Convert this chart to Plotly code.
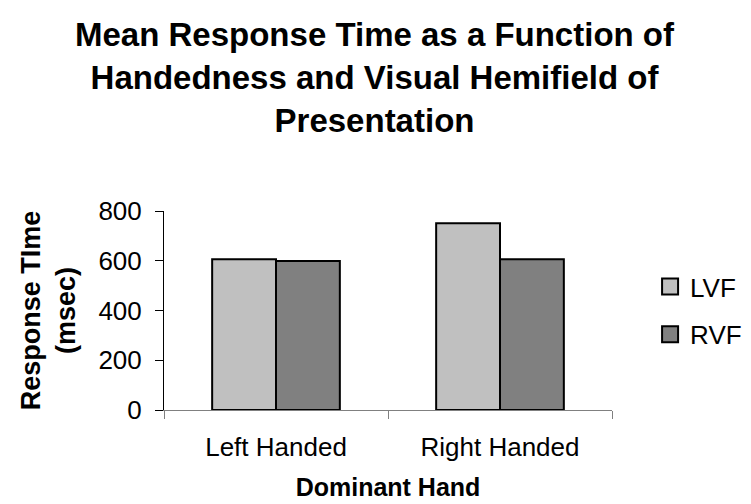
import plotly.graph_objects as go

# Chart data
hands = ["Left Handed", "Right Handed"]
series_names = ["LVF", "RVF"]
lvf = [606, 751]
rvf = [599, 606]
y_ticks = [0, 200, 400, 600, 800]

colors = ["#C0C0C0", "#808080"]
font_family = "Liberation Sans, Arial, sans-serif"

fig = go.Figure()
for name, vals, col in zip(series_names, [lvf, rvf], colors):
    fig.add_trace(go.Bar(
        name=name, x=hands, y=vals, showlegend=False,
        marker=dict(color=col, line=dict(color="black", width=2)),
    ))
    # legend entry with a bigger square swatch, like the original
    fig.add_trace(go.Scatter(
        name=name, x=[None], y=[None], mode="markers", legendgroup=name,
        marker=dict(symbol="square", size=16, color=col,
                    line=dict(color="black", width=2)),
    ))

fig.update_layout(
    width=751, height=504,
    margin=dict(l=156, r=129, t=203, b=102),
    paper_bgcolor="white", plot_bgcolor="white",
    font=dict(family=font_family, size=26, color="black"),
    barmode="group", bargap=0.43, bargroupgap=0,
    showlegend=True,
    legend=dict(
        x=1.085, xanchor="left", y=0.5, yanchor="middle",
        traceorder="grouped", tracegroupgap=11,
        font=dict(size=26), bgcolor="rgba(0,0,0,0)",
    ),
    # title centred on the page, not on the plot area
    annotations=[dict(
        text="<b>Mean Response Time as a Function of<br>Handedness and Visual Hemifield of<br>Presentation</b>",
        font=dict(size=33), xref="paper", yref="paper",
        x=(375 - 156) / 466, xanchor="center", y=1 + 197 / 199, yanchor="top",
        showarrow=False, align="center",
    )],
)

fig.update_xaxes(
    title=dict(text="<b>Dominant Hand</b>", font=dict(size=25), standoff=17),
    showline=True, linecolor="#808080", linewidth=1,
    ticks="outside", tickson="boundaries", ticklen=8, tickcolor="#808080",
    ticklabelstandoff=14, showgrid=False, range=[-0.5, 1.5],
)
fig.update_yaxes(
    title=dict(text="<b>Response TIme<br>(msec)</b>", font=dict(size=27), standoff=14),
    range=[0, 800], tickvals=y_ticks,
    showline=True, linecolor="black", linewidth=1,
    ticks="outside", ticklen=8, tickcolor="black",
    ticklabelstandoff=8, showgrid=False, zeroline=False,
)

fig.write_html("out.html")
